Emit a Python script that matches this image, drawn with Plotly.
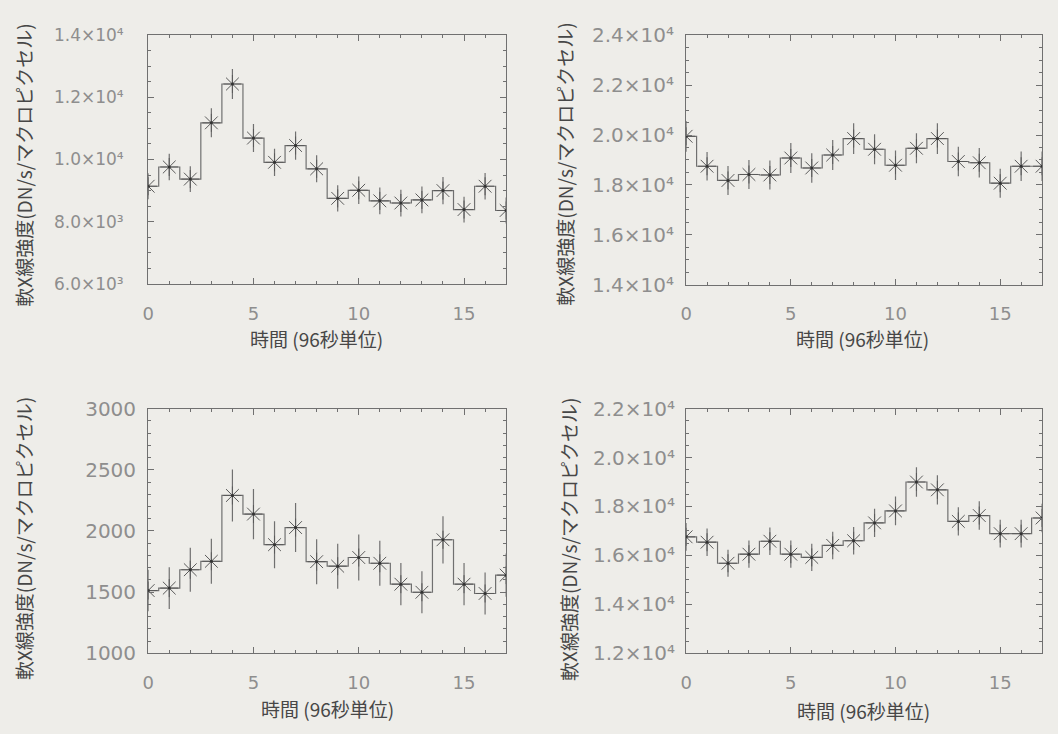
import plotly.graph_objects as go

# ---- data ----
t = list(range(18))

p1_vals = [9140, 9760, 9370, 11180, 12430, 10690, 9910, 10450, 9700, 8750,
           9010, 8670, 8600, 8700, 9000, 8390, 9140, 8360]
p1_err = [420, 424, 414, 466, 481, 450, 440, 455, 435, 424,
          440, 430, 430, 430, 440, 414, 424, 415]

p2_vals = [19950, 18750, 18180, 18420, 18400, 19080, 18680, 19200, 19860, 19430,
           18790, 19470, 19860, 18940, 18890, 18070, 18750, 18750]
p2_err = [615, 575, 580, 585, 585, 600, 590, 600, 615, 605,
          590, 605, 615, 595, 595, 580, 590, 590]

p3_vals = [1513, 1533, 1683, 1752, 2290, 2138, 1888, 2028, 1749, 1712,
           1783, 1736, 1565, 1499, 1928, 1565, 1489, 1639]
p3_err = [170, 171, 180, 184, 213, 205, 192, 200, 184, 184,
          187, 184, 173, 171, 193, 173, 171, 176]

p4_vals = [16760, 16540, 15680, 16050, 16580, 16050, 15920, 16410, 16600, 17330,
           17820, 19000, 18680, 17390, 17630, 16890, 16890, 17530]
p4_err = [570, 565, 550, 555, 565, 555, 553, 562, 565, 578,
          586, 605, 600, 580, 584, 571, 571, 582]

p1_ticks = [6000, 8000, 10000, 12000, 14000]
p1_ticktext = ["6.0×10³", "8.0×10³", "1.0×10⁴", "1.2×10⁴", "1.4×10⁴"]
p2_ticks = [14000, 16000, 18000, 20000, 22000, 24000]
p2_ticktext = ["1.4×10⁴", "1.6×10⁴", "1.8×10⁴", "2.0×10⁴", "2.2×10⁴", "2.4×10⁴"]
p3_ticks = [1000, 1500, 2000, 2500, 3000]
p3_ticktext = ["1000", "1500", "2000", "2500", "3000"]
p4_ticks = [12000, 14000, 16000, 18000, 20000, 22000]
p4_ticktext = ["1.2×10⁴", "1.4×10⁴", "1.6×10⁴", "1.8×10⁴", "2.0×10⁴", "2.2×10⁴"]

x_title = "時間 (96秒単位)"
y_title = "軟X線強度(DN/s/マクロピクセル)"

# ---- style ----
BG = "#eeede9"
LINE = "#707070"
MARK = "#5a5a5a"
TICKC = "#8e8e8e"
TITLEC = "#474747"
NUMFONT = "DejaVu Sans"
CJKFONT = "Noto Sans CJK JP"

fig = go.Figure()

panels = [
    (p1_vals, p1_err, "x", "y"),
    (p2_vals, p2_err, "x2", "y2"),
    (p3_vals, p3_err, "x3", "y3"),
    (p4_vals, p4_err, "x4", "y4"),
]
for vals, err, xa, ya in panels:
    fig.add_trace(go.Scatter(
        x=t, y=vals, mode="lines", line=dict(shape="hvh", color=LINE, width=1.2),
        xaxis=xa, yaxis=ya, showlegend=False, hoverinfo="skip"))
    fig.add_trace(go.Scatter(
        x=t, y=vals, mode="markers",
        marker=dict(symbol="asterisk-open", size=15, color=MARK,
                    line=dict(color=MARK, width=1)),
        error_y=dict(type="data", array=err, visible=True, width=0,
                     color=LINE, thickness=1.2),
        xaxis=xa, yaxis=ya, showlegend=False, cliponaxis=True))
    fig.add_trace(go.Scatter(
        x=t, y=vals, mode="markers",
        marker=dict(symbol="circle", size=3, color="#333333"),
        xaxis=xa, yaxis=ya, showlegend=False, hoverinfo="skip"))

W, H = 1058, 734
def dx(a, b):
    return [a / W, b / W]
def dy(top, bottom):
    return [1 - bottom / H, 1 - top / H]

xdoms = [dx(143, 503), dx(684, 1042), dx(143, 503), dx(684, 1042)]
ydoms = [dy(24, 281), dy(24, 282), dy(410, 663), dy(410, 663)]
yranges = [[6000, 14000], [14000, 24000], [1000, 3000], [12000, 22000]]
yticks = [(p1_ticks, p1_ticktext), (p2_ticks, p2_ticktext),
          (p3_ticks, p3_ticktext), (p4_ticks, p4_ticktext)]
yminor = [500, 500, 100, 500]
yfs = [17, 20, 20, 20]
ystand = [20, 7, 7, 6]

layout = dict(
    width=W, height=H, paper_bgcolor=BG, plot_bgcolor=BG,
    margin=dict(l=0, r=0, t=0, b=0), showlegend=False,
)
for i in range(4):
    sfx = "" if i == 0 else str(i + 1)
    layout["xaxis" + sfx] = dict(
        domain=xdoms[i], anchor="y" + sfx, range=[0, 17],
        tickmode="linear", tick0=0, dtick=5,
        ticks="inside", ticklen=6, tickcolor=LINE, tickwidth=1,
        minor=dict(ticks="inside", ticklen=3, dtick=1, tickcolor=LINE, showgrid=False),
        showline=True, linecolor=LINE, linewidth=1.2, mirror="ticks",
        showgrid=False, zeroline=False,
        tickfont=dict(family=NUMFONT, size=18, color=TICKC),
        ticklabelstandoff=13,
    )
    layout["yaxis" + sfx] = dict(
        domain=ydoms[i], anchor="x" + sfx, range=yranges[i],
        tickmode="array", tickvals=yticks[i][0], ticktext=yticks[i][1],
        ticks="inside", ticklen=6, tickcolor=LINE, tickwidth=1,
        minor=dict(ticks="inside", ticklen=3, dtick=yminor[i], tick0=0,
                   tickcolor=LINE, showgrid=False),
        showline=True, linecolor=LINE, linewidth=1.2, mirror="ticks",
        showgrid=False, zeroline=False,
        tickfont=dict(family=NUMFONT, size=yfs[i], color=TICKC),
        ticklabelstandoff=ystand[i],
    )

anns = []
xt_pos = [(312, 338), (861, 338), (323, 720), (862, 722)]
yt_pos = [(18, 158), (562, 157), (17, 544), (565, 545)]
for (px, py) in xt_pos:
    anns.append(dict(text=x_title, x=px / W, y=1 - py / H, xref="paper", yref="paper",
                     xanchor="center", yanchor="middle", showarrow=False,
                     font=dict(family=CJKFONT, size=19, color=TITLEC)))
for (px, py) in yt_pos:
    anns.append(dict(text=y_title, x=px / W, y=1 - py / H, xref="paper", yref="paper",
                     xanchor="center", yanchor="middle", showarrow=False, textangle=-90,
                     font=dict(family=CJKFONT, size=19, color=TITLEC)))
layout["annotations"] = anns

fig.update_layout(**layout)
fig.write_html(
    "out.html",
    config={"displayModeBar": False},
    post_script="document.body.style.margin='0';document.body.style.background='%s';"
                "document.documentElement.style.overflow='hidden';" % BG,
)
